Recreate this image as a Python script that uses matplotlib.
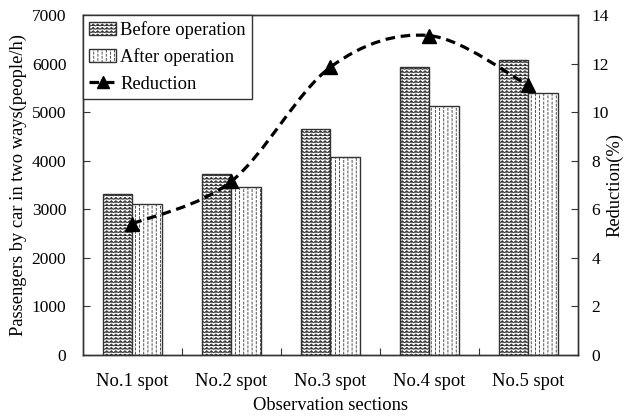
import warnings
import numpy as np
import matplotlib
matplotlib.use('Agg')
import matplotlib.pyplot as plt
import matplotlib.hatch as mhatch
from matplotlib.path import Path
from matplotlib.patches import PathPatch
from matplotlib.lines import Line2D

warnings.filterwarnings('ignore')

# data
spots = ['No.1 spot', 'No.2 spot', 'No.3 spot', 'No.4 spot', 'No.5 spot']
before = [3310, 3730, 4650, 5920, 6070]
after = [3115, 3465, 4085, 5135, 5395]
reduction = [5.4, 7.15, 11.85, 13.15, 11.1]


# custom hatches: zigzag rows ('z') and staggered vertical dashes (':')
class ZigzagHatch(mhatch.HatchPatternBase):
    def __init__(self, hatch, density):
        self.rows = int(hatch.count('z') * density)
        self.teeth = int(self.rows * 0.75)
        self.n = 2 * self.teeth + 1
        self.num_vertices = self.rows * self.n

    def set_vertices_and_codes(self, vertices, codes):
        if self.rows == 0:
            return
        xs = np.linspace(0, 1, self.n)
        amp = 0.3 / self.rows
        for r in range(self.rows):
            y0 = (r + 0.5) / self.rows
            ys = y0 + amp * np.where(np.arange(self.n) % 2 == 0, -1, 1)
            sl = slice(r * self.n, (r + 1) * self.n)
            vertices[sl, 0] = xs
            vertices[sl, 1] = ys
            codes[sl] = Path.LINETO
            codes[r * self.n] = Path.MOVETO


class DashHatch(mhatch.HatchPatternBase):
    def __init__(self, hatch, density):
        self.cols = int(hatch.count(':') * density)
        self.per = self.cols
        self.num_vertices = self.cols * self.per * 2

    def set_vertices_and_codes(self, vertices, codes):
        if self.cols == 0:
            return
        k = 0
        step = 1.0 / self.per
        for c in range(self.cols):
            x = (c + 0.5) / self.cols
            off = 0.5 * step if c % 2 else 0.0
            for j in range(self.per):
                y = (j * step + off) % 1.0
                vertices[k] = (x, y)
                vertices[k + 1] = (x, min(y + 0.5 * step, 1.0))
                codes[k] = Path.MOVETO
                codes[k + 1] = Path.LINETO
                k += 2


mhatch._hatch_types.extend([ZigzagHatch, DashHatch])

plt.rcParams['font.family'] = ['Liberation Serif', 'DejaVu Serif']
plt.rcParams['font.size'] = 13.3
plt.rcParams['hatch.linewidth'] = 0.6

fig = plt.figure(figsize=(6.24, 4.16), dpi=100)
ax = fig.add_axes([0.133, 0.147, 0.793, 0.817])
ax2 = ax.twinx()

x = np.arange(len(spots))
w = 0.3
ax.bar(x - w / 2, before, w, facecolor='white', edgecolor='#333333',
       hatch='zzzzz', linewidth=1.0, label='Before operation')
ax.bar(x + w / 2, after, w, facecolor='white', edgecolor='#333333',
       hatch='::::', linewidth=1.0, label='After operation')


def smooth_path(xs, ys, t=1 / 6):
    pts = np.column_stack([xs, ys]).astype(float)
    ext = np.vstack([pts[0], pts, pts[-1]])
    verts = [pts[0]]
    codes = [Path.MOVETO]
    for i in range(len(pts) - 1):
        p0, p1, p2, p3 = ext[i], ext[i + 1], ext[i + 2], ext[i + 3]
        verts += [p1 + (p2 - p0) * t, p2 - (p3 - p1) * t, p2]
        codes += [Path.CURVE4] * 3
    return Path(verts, codes)


dash = (0, (3, 1.8))
ax2.add_patch(PathPatch(smooth_path(x, reduction), fill=False, edgecolor='black',
                        linewidth=2.3, linestyle=dash, capstyle='butt'))
ax2.plot(x, reduction, linestyle='none', marker='^', markersize=10, color='black')

ax.set_xlim(-0.5, len(spots) - 0.5)
ax.set_ylim(0, 7000)
ax2.set_ylim(0, 14)
ax.set_yticks(np.arange(0, 7001, 1000))
ax2.set_yticks(np.arange(0, 15, 2))

ax.set_xticks(np.arange(0.5, len(spots) - 0.5, 1))
ax.set_xticklabels([])
ax.set_xticks(x, minor=True)
ax.set_xticklabels(spots, minor=True)
ax.tick_params(axis='x', which='major', direction='in', length=5, color='#333333')
ax.tick_params(axis='x', which='minor', length=0, pad=13)
ax.tick_params(axis='y', direction='in', length=5, pad=12, labelsize=12.5,
               color='#333333')
ax2.tick_params(axis='y', direction='in', length=5, pad=10, labelsize=12.5,
                color='#333333')
for a in (ax, ax2):
    for s in a.spines.values():
        s.set_color('#333333')
        s.set_linewidth(1.0)

ax.set_xlabel('Observation sections', labelpad=5)
ax.set_ylabel('Passengers by car in two ways(people/h)')
ax.yaxis.set_label_coords(-0.113, 0.5)
ax2.set_ylabel('Reduction(%)')
ax2.yaxis.set_label_coords(1.057, 0.5)

h1, l1 = ax.get_legend_handles_labels()
red_handle = Line2D([], [], color='black', linestyle=dash, linewidth=2.3,
                    marker='^', markersize=8)
ax2.legend(h1 + [red_handle], l1 + ['Reduction'], loc='upper left',
           bbox_to_anchor=(0, 1), borderaxespad=0, fancybox=False,
           edgecolor='#333333', framealpha=1, handlelength=1.45,
           handletextpad=0.2, labelspacing=0.5, borderpad=0.35)

fig.savefig('out.png', dpi=100)
